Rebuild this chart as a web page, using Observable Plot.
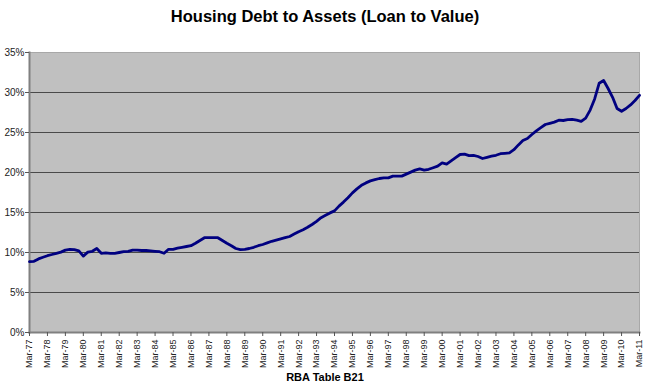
<!DOCTYPE html>
<html><head><meta charset="utf-8">
<script src="https://cdn.jsdelivr.net/npm/d3@7"></script>
<script src="https://cdn.jsdelivr.net/npm/@observablehq/plot@0.6"></script>
<style>
body{margin:0;background:#fff;font-family:"Liberation Sans",Arial,sans-serif;}
#wrap{width:650px;height:387px;position:relative;overflow:hidden;}
#title{height:30px;line-height:33px;text-align:center;font-weight:bold;font-size:16.5px;color:#000;}
#chart{height:337px;}
#chart svg{overflow:visible;}
#caption{height:20px;line-height:20px;text-align:center;font-weight:bold;font-size:11px;color:#000;}
</style></head><body>
<div id="wrap"><div id="title">Housing Debt to Assets (Loan to Value)</div><div id="chart"></div><div id="caption">RBA Table B21</div></div>
<script>
const months = ["Mar", "Jun", "Sep", "Dec"];
const startYear = 1977;
// Housing debt to assets ratio (%), quarterly Mar-77 .. Mar-11
const values = [
  8.85, 8.9, 9.2, 9.4, 9.6, 9.75, 9.9, 10.05,
  10.3, 10.38, 10.35, 10.2, 9.55, 10.05, 10.15, 10.5,
  9.9, 9.95, 9.9, 9.9, 10.0, 10.1, 10.15, 10.3,
  10.3, 10.25, 10.25, 10.2, 10.15, 10.1, 9.9, 10.4,
  10.4, 10.55, 10.65, 10.75, 10.85, 11.15, 11.5, 11.85,
  11.87, 11.87, 11.85, 11.5, 11.15, 10.85, 10.5, 10.35,
  10.4, 10.5, 10.65, 10.85, 11.0, 11.2, 11.4, 11.55,
  11.7, 11.85, 12.0, 12.3, 12.6, 12.85, 13.15, 13.5,
  13.9, 14.35, 14.65, 14.95, 15.2, 15.8, 16.3, 16.85,
  17.45, 17.95, 18.4, 18.7, 18.95, 19.1, 19.25, 19.33,
  19.33, 19.55, 19.55, 19.55, 19.8, 20.05, 20.3, 20.45,
  20.3, 20.4, 20.6, 20.8, 21.2, 21.05, 21.45, 21.85,
  22.25, 22.29, 22.1, 22.15, 22.0, 21.75, 21.9, 22.05,
  22.15, 22.35, 22.4, 22.45, 22.85, 23.45, 24.0, 24.25,
  24.75, 25.2, 25.6, 26.0, 26.15, 26.3, 26.54, 26.5,
  26.6, 26.65, 26.55, 26.4, 26.8, 27.8, 29.2, 31.15,
  31.5, 30.5, 29.4, 28.0, 27.65, 28.0, 28.45, 29.0,
  29.65
];
const quarters = values.map((_, i) =>
  months[i % 4] + "-" + String((startYear + Math.floor(i / 4)) % 100).padStart(2, "0"));
const xTickLabels = quarters.filter(q => q.startsWith("Mar"));
const yTicks = [0, 5, 10, 15, 20, 25, 30, 35];
const gridTicks = [5, 10, 15, 20, 25, 30];

const data = quarters.map((q, i) => ({q, v: values[i]}));

const chart = Plot.plot({
  width: 650,
  height: 337,
  marginTop: 22,
  marginBottom: 35,
  marginLeft: 29,
  marginRight: 11,
  style: {fontFamily: "'Liberation Sans', Arial, sans-serif", fontSize: "10px", color: "#222", background: "transparent", overflow: "visible"},
  x: {type: "point", domain: quarters, padding: 0, axis: null},
  y: {domain: [0, 35], axis: null},
  marks: [
    Plot.frame({fill: "#c0c0c0"}),
    Plot.ruleY(gridTicks, {stroke: "#4a4a4a", strokeWidth: 1}),
    Plot.frame({anchor: "top", stroke: "#a8a8a8"}),
    Plot.frame({anchor: "right", stroke: "#a8a8a8"}),
    Plot.frame({anchor: "left", stroke: "#808080", strokeWidth: 2}),
    Plot.frame({anchor: "bottom", stroke: "#808080", strokeWidth: 2}),
    Plot.line(data, {x: "q", y: "v", stroke: "#000080", strokeWidth: 2.8, strokeLinejoin: "round"}),
    Plot.axisX(xTickLabels, {tickSize: 4, tickPadding: 3, tickRotate: -90, fontSize: 9, stroke: "#555", label: null}),
    Plot.axisY(yTicks, {tickSize: 4, tickPadding: 1, tickFormat: d => d + "%", stroke: "#555", label: null})
  ]
});
document.getElementById("chart").appendChild(chart);
</script>
</body></html>
